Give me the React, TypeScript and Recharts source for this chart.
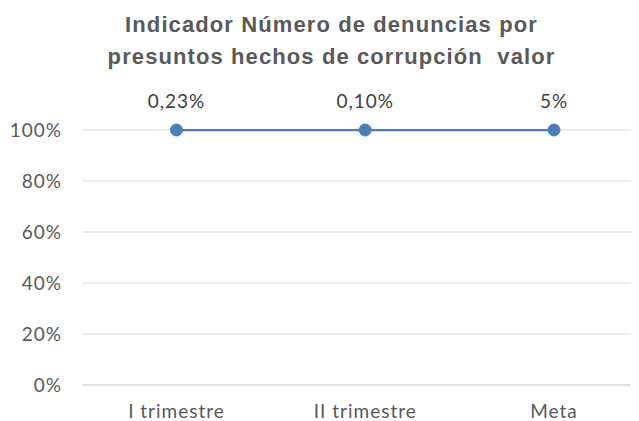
import React from "react";
import { LineChart, Line, XAxis, YAxis, CartesianGrid, LabelList } from "recharts";

const categories = ["I trimestre", "II trimestre", "Meta"];
const values = [100, 100, 100];
const pointLabels = ["0,23%", "0,10%", "5%"];
const yTicks = [0, 20, 40, 60, 80, 100];
const titleLines = ["Indicador Número de denuncias por", "presuntos hechos de corrupción  valor"];

const data = categories.map((c, i) => ({ name: c, value: values[i], label: pointLabels[i] }));

const FONT = "Lato, 'Open Sans', sans-serif";

export default function App() {
  return (
    <div style={{ position: "relative", width: 631, height: 413 }}>
      <div
        style={{
          position: "absolute",
          left: 8,
          top: 1,
          width: 631,
          textAlign: "center",
          fontFamily: "'Liberation Sans', Arial, sans-serif",
          fontWeight: "bold",
          fontSize: 22,
          letterSpacing: 1.1,
          lineHeight: "31.5px",
          color: "#595959",
        }}
      >
        {titleLines.map((t, i) => (
          <div key={i} style={{ whiteSpace: "pre" }}>{t}</div>
        ))}
      </div>
      <LineChart
        width={631}
        height={413}
        data={data}
        margin={{ top: 122, right: 0, bottom: 6, left: 0 }}
      >
        <CartesianGrid vertical={false} stroke="#d9d9d9" />
        <XAxis
          dataKey="name"
          scale="point"
          padding={{ left: 94.5, right: 85 }}
          axisLine={{ stroke: "#d9d9d9" }}
          tickLine={false}
          tickMargin={14}
          height={30}
          tick={{ fill: "#595959", fontSize: 19, letterSpacing: 1, fontFamily: FONT }}
        />
        <YAxis
          domain={[0, 100]}
          ticks={yTicks}
          width={74}
          axisLine={false}
          tickLine={false}
          tickMargin={14}
          tickFormatter={(v) => `${v}%`}
          tick={{ fill: "#595959", fontSize: 19, letterSpacing: 1, fontFamily: FONT }}
        />
        <Line
          type="linear"
          dataKey="value"
          stroke="#4a7ebb"
          strokeWidth={2.25}
          dot={{ r: 6, fill: "#4a7ebb", stroke: "#4a7ebb", strokeWidth: 1 }}
          isAnimationActive={false}
        >
          <LabelList
            dataKey="label"
            position="top"
            offset={22}
            fill="#404040"
            fontSize={19}
            letterSpacing={1}
            fontFamily={FONT}
          />
        </Line>
      </LineChart>
    </div>
  );
}
